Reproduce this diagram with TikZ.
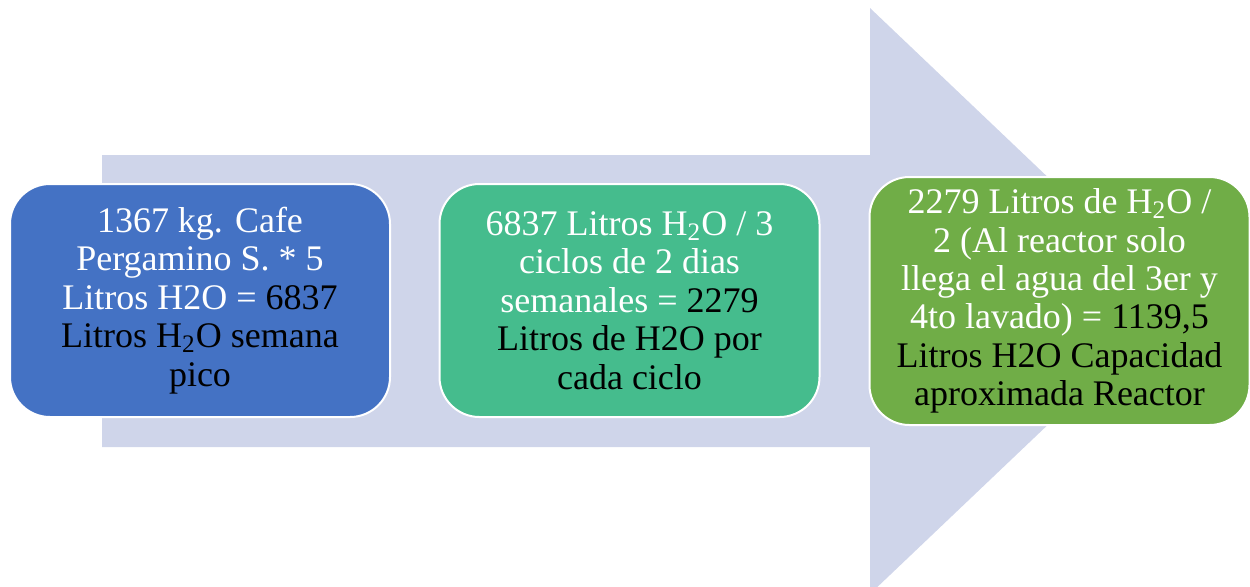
\documentclass[tikz,border=0pt]{standalone}
\usepackage{fontspec}
\setmainfont{Liberation Serif}
\definecolor{flecha}{HTML}{CFD5EA}
\definecolor{azul}{HTML}{4472C4}
\definecolor{turquesa}{HTML}{45BC8D}
\definecolor{verde}{HTML}{70AD47}
\begin{document}
\begin{tikzpicture}[x=.5pt, y=-.5pt,
    paso/.style={draw=white, line width=1pt, rounded corners=20pt, align=center,
        minimum width=190pt, minimum height=116.5pt, inner sep=0pt,
        font=\rmfamily\fontsize{18}{19.2}\selectfont}]
\useasboundingbox (0,0) rectangle (1250,586);
\clip (0,0) rectangle (1250,586);
\fill[flecha](102,155)--(870,155)--(870,8)--(1178,301)--(870,594)--(870,447)--(102,447)--cycle;

\node[paso, fill=azul] (pesado) at (200,300.5)
    {\color{white}1367 kg. Cafe\\ \color{white}Pergamino S. * 5\\
     \color{white}Litros H2O = \color{black}6837\\ Litros H\textsubscript{2}O semana\\ pico};
\node[paso, fill=turquesa] (ciclos) at (629.5,300.5)
    {\color{white}6837 Litros H\textsubscript{2}O / 3\\ \color{white}ciclos de 2 dias\\
     \color{white}semanales = \color{black}2279\\ Litros de H2O por\\ cada ciclo};
\node[paso, fill=verde, minimum height=124pt] (reactor) at (1059.5,301)
    {\color{white}2279 Litros de H\textsubscript{2}O /\\ \color{white}2 (Al reactor solo\\
     \color{white}llega el agua del 3er y\\ \color{white}4to lavado) = \color{black}1139,5\\
     Litros H2O Capacidad\\ aproximada Reactor};

\end{tikzpicture}
\end{document}
